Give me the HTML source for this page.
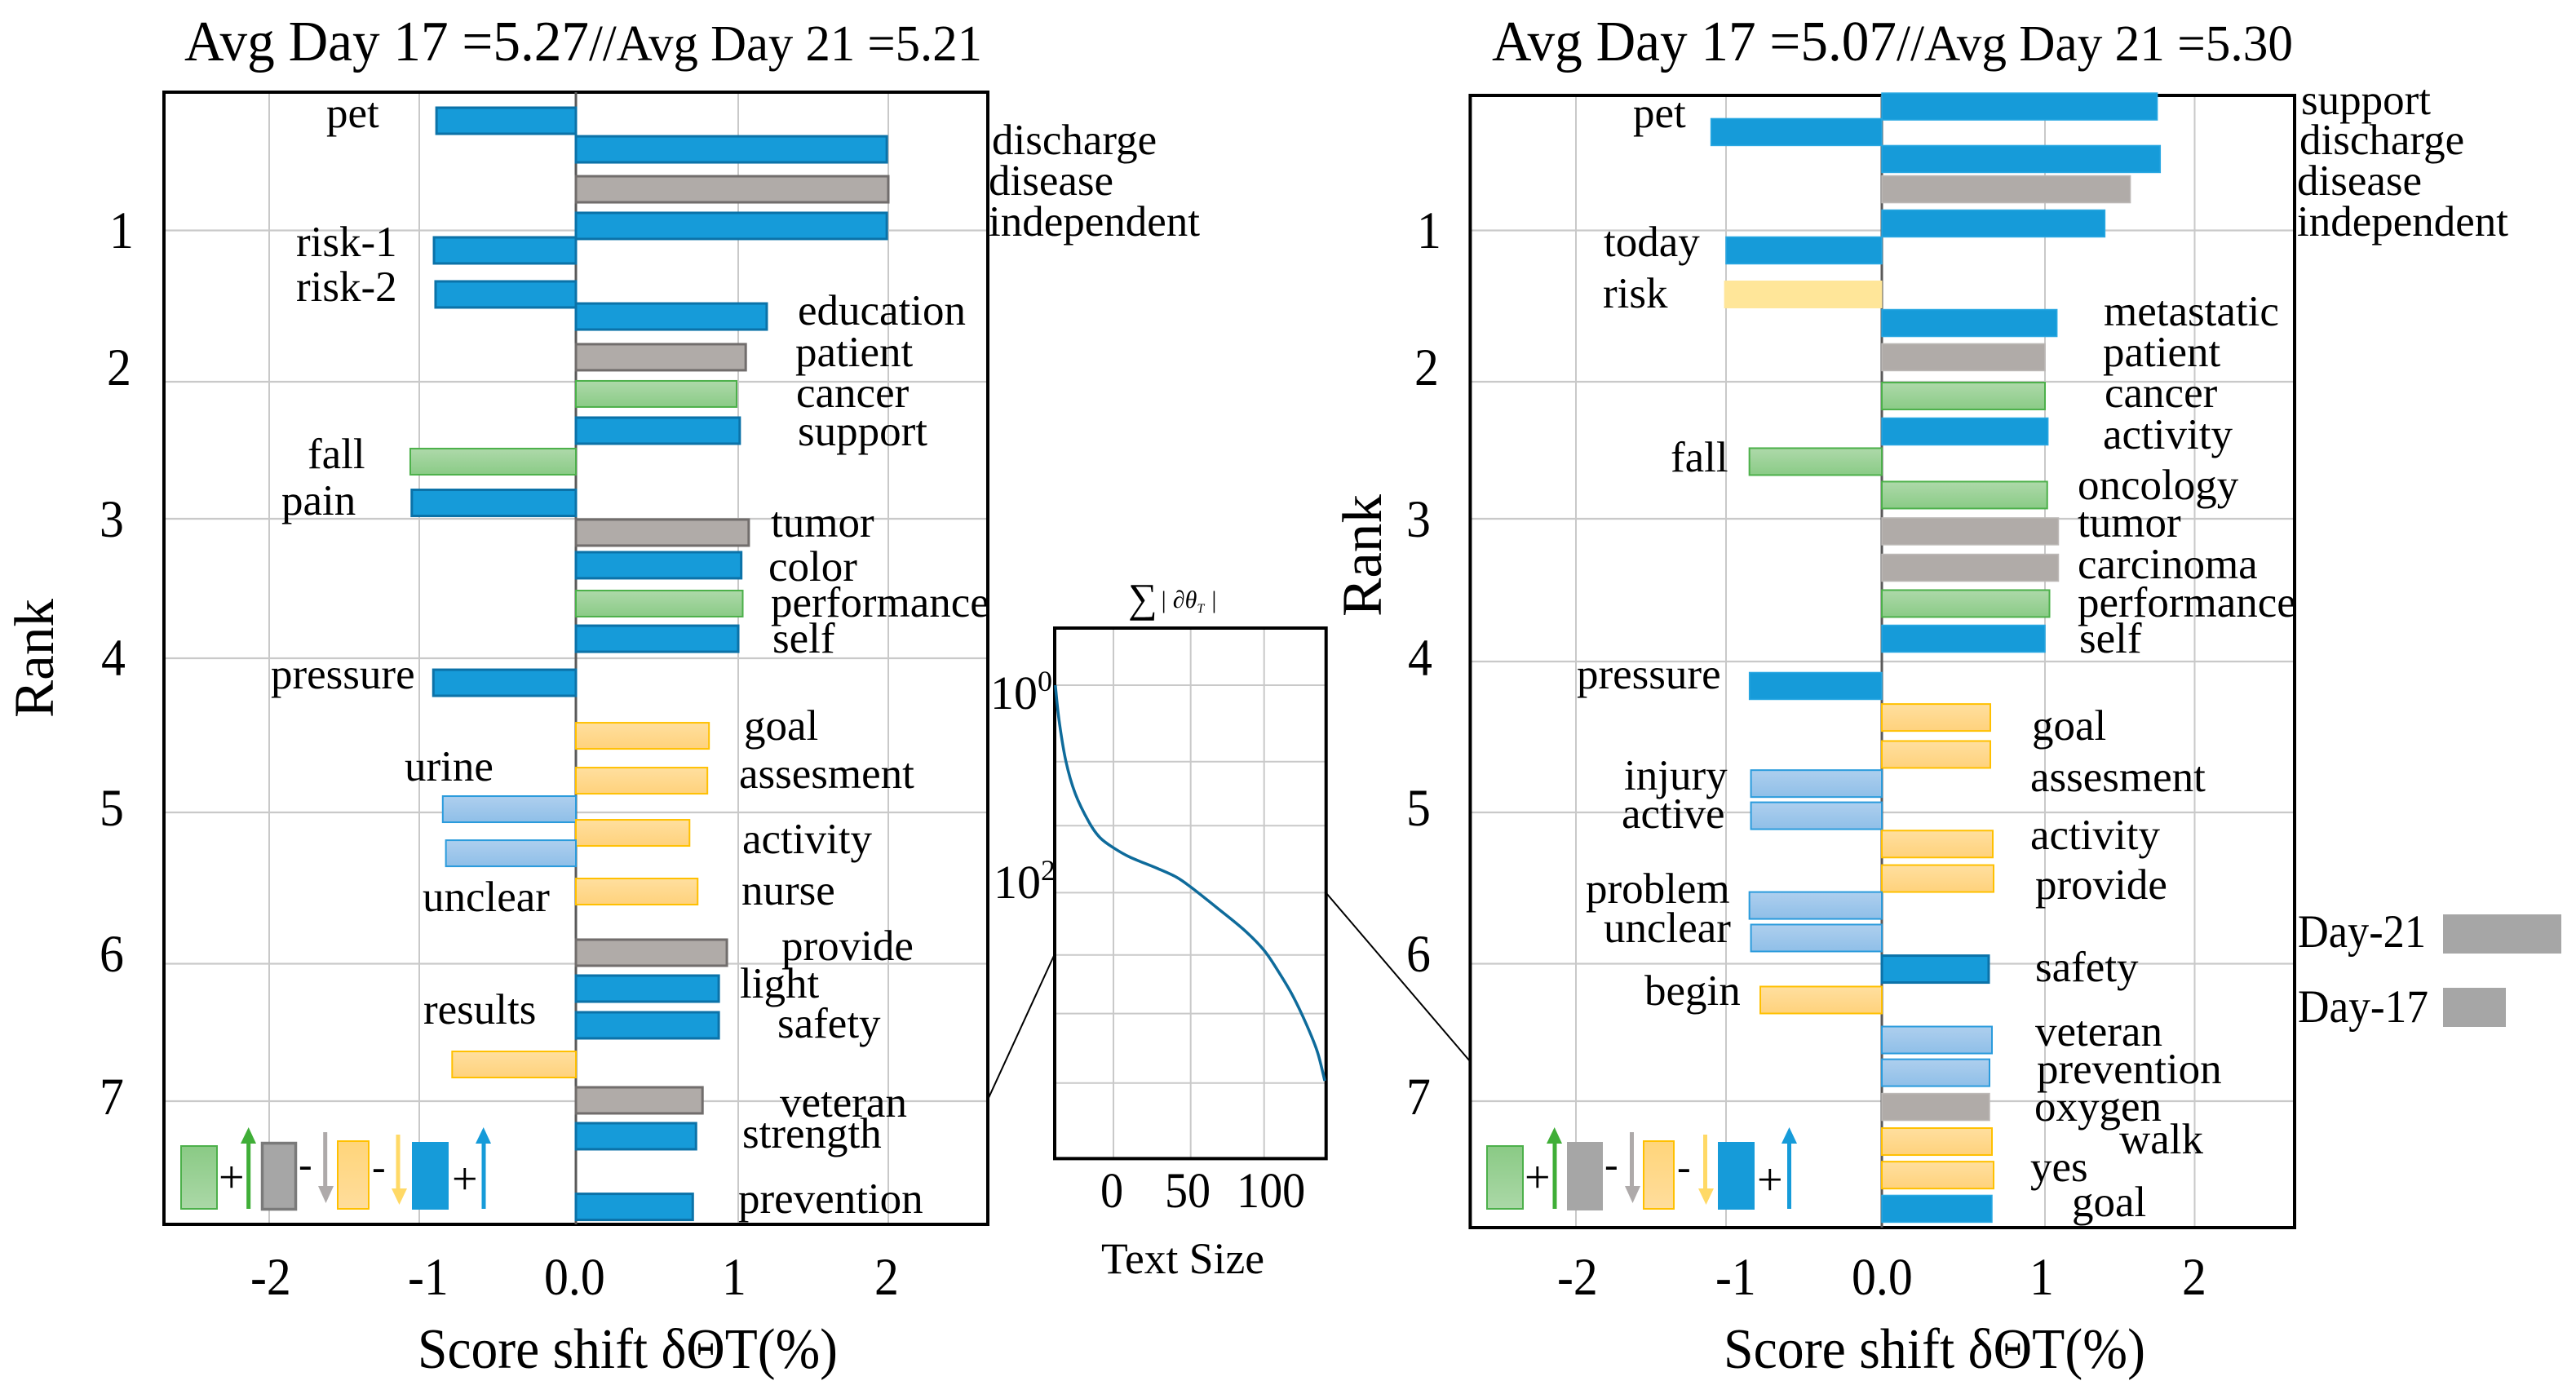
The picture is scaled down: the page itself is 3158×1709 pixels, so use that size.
<!DOCTYPE html>
<html lang="en">
<head>
<meta charset="utf-8">
<title>Score shift by rank</title>
<style>
html,body{margin:0;padding:0;background:#fff;width:3158px;height:1709px;overflow:hidden}
svg{display:block}
text{font-family:"Liberation Serif","Noto Serif CJK SC",serif;fill:#000}
.w{font-size:53px}
.t{font-size:65px}
</style>
</head>
<body>
<svg id="figure" xmlns="http://www.w3.org/2000/svg" width="3158" height="1709" viewBox="0 0 3158 1709">
<defs>
<linearGradient id="g-green" x1="0" y1="0" x2="0" y2="1"><stop offset="0" stop-color="#aed9aa"/><stop offset="1" stop-color="#8acb86"/></linearGradient>
<linearGradient id="g-yellow" x1="0" y1="0" x2="0" y2="1"><stop offset="0" stop-color="#ffdf9f"/><stop offset="1" stop-color="#ffd27c"/></linearGradient>
<linearGradient id="g-lightblue" x1="0" y1="0" x2="0" y2="1"><stop offset="0" stop-color="#aecfee"/><stop offset="1" stop-color="#8fbfe8"/></linearGradient>
<linearGradient id="g-green-leg" x1="0" y1="0" x2="0" y2="1"><stop offset="0" stop-color="#8aca85"/><stop offset="1" stop-color="#abd8a7"/></linearGradient>
<linearGradient id="g-yellow-leg" x1="0" y1="0" x2="0" y2="1"><stop offset="0" stop-color="#ffd57a"/><stop offset="1" stop-color="#ffdd9c"/></linearGradient>
</defs>

<rect x="0" y="0" width="3158" height="1709" fill="#fff"/>

<g id="left-grid"></g>
<g id="left-bars"></g>
<g id="right-grid"></g>
<g id="right-bars"></g>
<g id="inset-grid"></g>
<path id="inset-curve" fill="none" stroke="#0e6b9b" stroke-width="3.5"/>

<line x1="1211.6" y1="1346.7" x2="1292.8" y2="1170" stroke="#000" stroke-width="2"/>
<line x1="1626" y1="1095" x2="1801.6" y2="1300.5" stroke="#000" stroke-width="2"/>

<!-- Left panel text -->
<g>
<text x="226" y="74" font-size="70" textLength="496" lengthAdjust="spacingAndGlyphs">Avg Day 17 =5.27</text>
<text x="722" y="74" font-size="62" textLength="482" lengthAdjust="spacingAndGlyphs">//Avg Day 21 =5.21</text>
<text transform="translate(65 880) rotate(-90)" font-size="69" textLength="146" lengthAdjust="spacingAndGlyphs">Rank</text>
<text class="t" x="134" y="304">1</text>
<text class="t" x="131" y="472">2</text>
<text class="t" x="122" y="658">3</text>
<text class="t" x="124" y="828">4</text>
<text class="t" x="122" y="1012">5</text>
<text class="t" x="122" y="1191">6</text>
<text class="t" x="122" y="1366">7</text>
<text class="t" x="307" y="1587">-2</text>
<text class="t" x="500" y="1587">-1</text>
<text class="t" x="667" y="1587">0.0</text>
<text class="t" x="885" y="1587">1</text>
<text class="t" x="1072" y="1587">2</text>
<text x="512" y="1677" font-size="70" textLength="515" lengthAdjust="spacingAndGlyphs">Score shift δΘT(%)</text>
<text class="w" x="400" y="156">pet</text>
<text class="w" x="1216" y="189">discharge</text>
<text class="w" x="1212" y="239">disease</text>
<text class="w" x="1212" y="289">independent</text>
<text class="w" x="363" y="314">risk-1</text>
<text class="w" x="363" y="369">risk-2</text>
<text class="w" x="978" y="398">education</text>
<text class="w" x="975" y="449">patient</text>
<text class="w" x="976" y="499">cancer</text>
<text class="w" x="978" y="546">support</text>
<text class="w" x="377" y="574">fall</text>
<text class="w" x="345" y="631">pain</text>
<text class="w" x="945" y="658">tumor</text>
<text class="w" x="942" y="712">color</text>
<text class="w" x="945" y="756">performance</text>
<text class="w" x="947" y="800">self</text>
<text class="w" x="332" y="844">pressure</text>
<text class="w" x="912" y="907">goal</text>
<text class="w" x="906" y="966">assesment</text>
<text class="w" x="496" y="957">urine</text>
<text class="w" x="910" y="1046">activity</text>
<text class="w" x="909" y="1109">nurse</text>
<text class="w" x="518" y="1117">unclear</text>
<text class="w" x="958" y="1177">provide</text>
<text class="w" x="907" y="1223">light</text>
<text class="w" x="953" y="1272">safety</text>
<text class="w" x="519" y="1255">results</text>
<text class="w" x="956" y="1369">veteran</text>
<text class="w" x="910" y="1407">strength</text>
<text class="w" x="905" y="1487">prevention</text>
</g>

<!-- Left key -->
<g>
<rect x="222" y="1405" width="44" height="77" fill="url(#g-green-leg)" stroke="#4cb04a" stroke-width="2"/>
<text x="268" y="1462" font-size="56">+</text>
<path d="M302.2 1482V1402H295L304.7 1382L314 1402H307.2V1482Z" fill="#3fae37"/>
<rect x="321.5" y="1401.5" width="41" height="81" fill="#a6a6a6" stroke="#7a7a7a" stroke-width="3.5"/>
<text x="366" y="1444" font-size="50">-</text>
<path d="M396.2 1388H401.2V1454H409L399.5 1475L390 1454H396.2Z" fill="#aeaaaa"/>
<rect x="414" y="1399" width="38" height="83" fill="url(#g-yellow-leg)" stroke="#ffc000" stroke-width="2"/>
<text x="456" y="1447" font-size="50">-</text>
<path d="M485.5 1391H490.5V1457H499L489.5 1477L480 1457H485.5Z" fill="#ffd966"/>
<rect x="505" y="1400" width="45" height="83" fill="#169bd9"/>
<text x="554" y="1464" font-size="56">+</text>
<path d="M590.5 1482V1402H583L592.7 1382L602 1402H595.5V1482Z" fill="#169bd9"/>
</g>

<!-- Inset text -->
<g>
<text x="1383" y="750" font-size="50">∑</text>
<text x="1422" y="745" font-size="30" font-style="italic">| ∂θ<tspan dy="6" font-size="16">T</tspan><tspan dy="-6"> |</tspan></text>
<text x="1214" y="869" font-size="58">10<tspan dy="-22" font-size="36">0</tspan></text>
<text x="1218" y="1101" font-size="58">10<tspan dy="-22" font-size="36">2</tspan></text>
<text class="t" style="font-size:61px" x="1349" y="1480">0</text>
<text class="t" style="font-size:61px" x="1428" y="1480">50</text>
<text class="t" style="font-size:61px" x="1516" y="1480">100</text>
<text x="1350" y="1561" font-size="54" textLength="200" lengthAdjust="spacingAndGlyphs">Text Size</text>
</g>

<!-- Right panel text -->
<g>
<text x="1829" y="74" font-size="70" textLength="496" lengthAdjust="spacingAndGlyphs">Avg Day 17 =5.07</text>
<text x="2325" y="74" font-size="62" textLength="486" lengthAdjust="spacingAndGlyphs">//Avg Day 21 =5.30</text>
<text transform="translate(1693 756) rotate(-90)" font-size="69" textLength="150" lengthAdjust="spacingAndGlyphs">Rank</text>
<text class="t" x="1737" y="304">1</text>
<text class="t" x="1734" y="472">2</text>
<text class="t" x="1724" y="658">3</text>
<text class="t" x="1726" y="828">4</text>
<text class="t" x="1724" y="1012">5</text>
<text class="t" x="1724" y="1191">6</text>
<text class="t" x="1724" y="1366">7</text>
<text class="t" x="1909" y="1587">-2</text>
<text class="t" x="2103" y="1587">-1</text>
<text class="t" x="2270" y="1587">0.0</text>
<text class="t" x="2488" y="1587">1</text>
<text class="t" x="2675" y="1587">2</text>
<text x="2113" y="1677" font-size="70" textLength="517" lengthAdjust="spacingAndGlyphs">Score shift δΘT(%)</text>
<text class="w" x="2821" y="140">support</text>
<text class="w" x="2002" y="156">pet</text>
<text class="w" x="2819" y="189">discharge</text>
<text class="w" x="2816" y="239">disease</text>
<text class="w" x="2816" y="289">independent</text>
<text class="w" x="1966" y="314">today</text>
<text class="w" x="1965" y="377">risk</text>
<text class="w" x="2579" y="399">metastatic</text>
<text class="w" x="2578" y="449">patient</text>
<text class="w" x="2580" y="499">cancer</text>
<text class="w" x="2578" y="550">activity</text>
<text class="w" x="2048" y="578">fall</text>
<text class="w" x="2547" y="612">oncology</text>
<text class="w" x="2547" y="658">tumor</text>
<text class="w" x="2547" y="709">carcinoma</text>
<text class="w" x="2547" y="756">performance</text>
<text class="w" x="2549" y="800">self</text>
<text class="w" x="1933" y="844">pressure</text>
<text class="w" x="2491" y="907">goal</text>
<text class="w" x="2489" y="970">assesment</text>
<text class="w" x="1991" y="968">injury</text>
<text class="w" x="1988" y="1015">active</text>
<text class="w" x="2489" y="1041">activity</text>
<text class="w" x="2495" y="1102">provide</text>
<text class="w" x="1944" y="1107">problem</text>
<text class="w" x="1966" y="1155">unclear</text>
<text class="w" x="2495" y="1203">safety</text>
<text class="w" x="2016" y="1232">begin</text>
<text class="w" x="2495" y="1282">veteran</text>
<text class="w" x="2497" y="1328">prevention</text>
<text class="w" x="2494" y="1374">oxygen</text>
<text class="w" x="2598" y="1414">walk</text>
<text class="w" x="2489" y="1448">yes</text>
<text class="w" x="2540" y="1491">goal</text>
</g>

<!-- Right key -->
<g transform="translate(-10 0)">
<rect x="1833" y="1405" width="44" height="77" fill="url(#g-green-leg)" stroke="#4cb04a" stroke-width="2"/>
<text x="1879" y="1462" font-size="56">+</text>
<path d="M1913.5 1482V1402H1906L1915.7 1382L1925 1402H1918.5V1482Z" fill="#3fae37"/>
<rect x="1931" y="1400" width="44" height="84" fill="#a6a6a6"/>
<text x="1977" y="1444" font-size="50">-</text>
<path d="M2008 1388H2013V1454H2021L2011.5 1475L2002 1454H2008Z" fill="#aeaaaa"/>
<rect x="2025" y="1399" width="37" height="83" fill="url(#g-yellow-leg)" stroke="#ffc000" stroke-width="2"/>
<text x="2066" y="1447" font-size="50">-</text>
<path d="M2098 1391H2103V1457H2111L2101.5 1477L2092 1457H2098Z" fill="#ffd966"/>
<rect x="2116" y="1400" width="45" height="83" fill="#169bd9"/>
<text x="2164" y="1465" font-size="56">+</text>
<path d="M2201 1482V1402H2194L2203.5 1382L2213 1402H2206V1482Z" fill="#169bd9"/>
</g>

<!-- Day legend -->
<g>
<text x="2817" y="1161" font-size="57" textLength="157" lengthAdjust="spacingAndGlyphs">Day-21</text>
<rect x="2995" y="1121" width="145" height="48" fill="#a6a6a6"/>
<text x="2817" y="1253" font-size="57" textLength="160" lengthAdjust="spacingAndGlyphs">Day-17</text>
<rect x="2995" y="1211" width="77" height="48" fill="#a6a6a6"/>
</g>
</svg>

<script>
// ----- Data: left panel (Day 17 // Day 21 = 5.27 // 5.21) -----
const leftWords = ["pet","discharge","disease","independent","risk-1","risk-2","education","patient","cancer","support","fall","pain","tumor","color","performance","self","pressure","goal","assesment","urine","activity","unclear","nurse","provide","light","safety","results","veteran","strength","prevention"];
const leftShift = [-0.89,1.99,2.0,1.99,-0.906,-0.896,1.19,1.05,0.99,1.01,-1.06,-1.05,1.07,1.02,1.03,1.0,-0.91,0.82,0.81,-0.85,0.70,-0.83,0.75,0.93,0.88,0.88,-0.79,0.78,0.74,0.72];
const leftRank = [0.275,0.464,0.728,0.97,1.132,1.423,1.569,1.838,2.089,2.357,2.583,2.884,3.099,3.333,3.608,3.86,4.159,4.503,4.794,4.979,5.135,5.27,5.523,5.927,6.181,6.448,6.733,6.994,7.255,7.769];
const leftKind = ["blue","blue","gray","blue","blue","blue","blue","gray","green","blue","green","blue","gray","blue","green","blue","blue","yellow","yellow","lightblue","yellow","lightblue","yellow","gray","blue","blue","yellow","gray","blue","blue"];

// ----- Data: right panel -----
const rightWords = ["support","pet","discharge","disease","independent","today","risk","metastatic","patient","cancer","activity","fall","oncology","tumor","carcinoma","performance","self","pressure","goal","assesment","injury","active","activity","provide","problem","unclear","safety","begin","veteran","prevention","oxygen","walk","yes","goal"];
const rightShift = [1.75,-1.10,1.77,1.57,1.40,-1.0,-1.01,1.08,1.0,1.0,1.02,-0.85,1.015,1.09,1.09,1.03,1.0,-0.85,0.665,0.665,-0.84,-0.84,0.68,0.685,-0.85,-0.84,0.655,-0.78,0.675,0.66,0.66,0.675,0.685,0.675];
const rightRank = [0.181,0.35,0.528,0.728,0.954,1.132,1.423,1.612,1.838,2.104,2.363,2.583,2.827,3.088,3.343,3.594,3.84,4.162,4.371,4.616,4.809,5.022,5.209,5.437,5.615,5.83,6.039,6.264,6.555,6.793,7.042,7.294,7.538,7.783];
const rightKind = ["blueflat","blueflat","blueflat","grayflat","blueflat","blueflat","paleyellow","blueflat","grayflat","green","blueflat","green","green","grayflat","grayflat","green","blueflat","blueflat","yellow","yellow","lightblue","lightblue","yellow","yellow","lightblue","lightblue","blue","yellow","lightblue","lightblue","grayflat","yellow","yellow","blueflat"];

// ----- Data: shared ticks -----
const shiftTicks = [-2,-1,0,1,2];
const rankTicks = [1,2,3,4,5,6,7];

// ----- Data: inset curve (text size vs log10 magnitude) -----
const insetSizes = [-37.6,-35.2,-30.8,-24.7,-15.8,-8.8,0,10.6,28.1,40.5,50,67.8,86.3,100,110.3,119.6,128.9,136.3,141.3];
const insetExponents = [0,0.338,0.731,1.046,1.321,1.468,1.567,1.657,1.764,1.848,1.945,2.144,2.358,2.556,2.773,2.996,3.272,3.534,3.813];
const insetSizeTicks = [0,50,100];
const insetExponentTicks = [0,0.737,1.354,2,2.6,3.165,3.835];

// ----- Axis functions -----
function piecewise(domain, range) {
  return function (v) {
    let i = 0;
    while (i < domain.length - 2 && v > domain[i + 1]) i++;
    const t = (v - domain[i]) / (domain[i + 1] - domain[i]);
    return range[i] + t * (range[i + 1] - range[i]);
  };
}
const SVG_NS = "http://www.w3.org/2000/svg";
const barStyles = {
  blue: { fill: "#169bd9", stroke: "#0b72a8", width: 3 },
  blueflat: { fill: "#169bd9", stroke: "#2aa8e2", width: 1.5 },
  gray: { fill: "#b0aba8", stroke: "#716d6c", width: 3 },
  grayflat: { fill: "#b0aba8", stroke: "#bdb9b7", width: 1.5 },
  green: { fill: "url(#g-green)", stroke: "#4cb04a", width: 2 },
  yellow: { fill: "url(#g-yellow)", stroke: "#ffc000", width: 2 },
  lightblue: { fill: "url(#g-lightblue)", stroke: "#2a9bdc", width: 2 },
  paleyellow: { fill: "#ffe699", stroke: "#ffe699", width: 1 }
};

function addLine(parent, x1, y1, x2, y2, color, width) {
  const el = document.createElementNS(SVG_NS, "line");
  el.setAttribute("x1", x1);
  el.setAttribute("y1", y1);
  el.setAttribute("x2", x2);
  el.setAttribute("y2", y2);
  el.setAttribute("stroke", color);
  el.setAttribute("stroke-width", width);
  
  
  parent.appendChild(el);
  return el;
}

function addFrame(parent, box, width) {
  const el = document.createElementNS(SVG_NS, "rect");
  el.setAttribute("x", box.left);
  el.setAttribute("y", box.top);
  el.setAttribute("width", box.right - box.left);
  el.setAttribute("height", box.bottom - box.top);
  el.setAttribute("fill", "none");
  el.setAttribute("stroke", "#000");
  el.setAttribute("stroke-width", width);
  
  
  parent.appendChild(el);
}

function drawPanel(gridId, barsId, box, xScale, yScale, words, shifts, ranks, kinds, thickness) {
  const grid = document.getElementById(gridId);
  const bars = document.getElementById(barsId);
  shiftTicks.forEach(function (t) {
    if (t !== 0) addLine(grid, xScale(t), box.top, xScale(t), box.bottom, "#c9c9c9", 2);
  });
  rankTicks.forEach(function (r) {
    addLine(grid, box.left, yScale(r), box.right, yScale(r), "#c9c9c9", 2.2);
  });
  addFrame(grid, box, 4);
  addLine(grid, xScale(0), box.top, xScale(0), box.bottom, "#595959", 3);
  shifts.forEach(function (v, i) {
    const x0 = xScale(0);
    const x1 = xScale(v);
    const style = barStyles[kinds[i]];
    const el = document.createElementNS(SVG_NS, "rect");
    el.setAttribute("x", Math.min(x0, x1));
    el.setAttribute("y", yScale(ranks[i]) - thickness / 2);
    el.setAttribute("width", Math.abs(x1 - x0));
    el.setAttribute("height", thickness);
    el.setAttribute("fill", style.fill);
    el.setAttribute("stroke", style.stroke);
    el.setAttribute("stroke-width", style.width);
    
    
    bars.appendChild(el);
  });
}

// Left panel axes
const leftX = piecewise(shiftTicks, [330, 514, 706, 905, 1089]);
const leftY = piecewise(rankTicks, [282.5, 468, 636, 807, 996, 1181.5, 1350]);
drawPanel("left-grid", "left-bars", { left: 201, right: 1211, top: 113, bottom: 1501 }, leftX, leftY, leftWords, leftShift, leftRank, leftKind, 32);

// Right panel axes
const rightX = piecewise(shiftTicks, [1932, 2116, 2307, 2507, 2690.5]);
const rightY = piecewise(rankTicks, [282.5, 468, 636, 811, 996, 1181.5, 1350]);
drawPanel("right-grid", "right-bars", { left: 1802.4, right: 2813, top: 117, bottom: 1505 }, rightX, rightY, rightWords, rightShift, rightRank, rightKind, 33);

// Inset axes
const insetXScale = piecewise(insetSizeTicks, [1365, 1459.7, 1549.7]);
function insetYScale(exponent) { return 840 + exponent * 127.2; }
const insetBox = { left: 1293, right: 1625.7, top: 770, bottom: 1420.4 };
const insetGrid = document.getElementById("inset-grid");
insetSizeTicks.forEach(function (t) {
  addLine(insetGrid, insetXScale(t), insetBox.top, insetXScale(t), insetBox.bottom, "#c9c9c9", 2);
});
insetExponentTicks.forEach(function (e) {
  addLine(insetGrid, insetBox.left, insetYScale(e), insetBox.right, insetYScale(e), "#c9c9c9", 2);
});
addFrame(insetGrid, insetBox, 4);

// Inset curve: smooth path through the read points
(function () {
  const pts = insetSizes.map(function (s, i) { return [insetXScale(s), insetYScale(insetExponents[i])]; });
  let d = "M" + pts[0][0] + " " + pts[0][1];
  for (let i = 0; i < pts.length - 1; i++) {
    const p0 = pts[Math.max(i - 1, 0)];
    const p1 = pts[i];
    const p2 = pts[i + 1];
    const p3 = pts[Math.min(i + 2, pts.length - 1)];
    d += "C" + (p1[0] + (p2[0] - p0[0]) / 6) + " " + (p1[1] + (p2[1] - p0[1]) / 6) + " " +
         (p2[0] - (p3[0] - p1[0]) / 6) + " " + (p2[1] - (p3[1] - p1[1]) / 6) + " " + p2[0] + " " + p2[1];
  }
  document.getElementById("inset-curve").setAttribute("d", d);
})();

// Tick numerals in the reference are slightly tall and narrow: compress their width
document.querySelectorAll("text.t").forEach(function (el) {
  const natural = el.getComputedTextLength();
  el.setAttribute("textLength", (natural * 0.92).toFixed(1));
  el.setAttribute("lengthAdjust", "spacingAndGlyphs");
});
</script>
</body>
</html>
